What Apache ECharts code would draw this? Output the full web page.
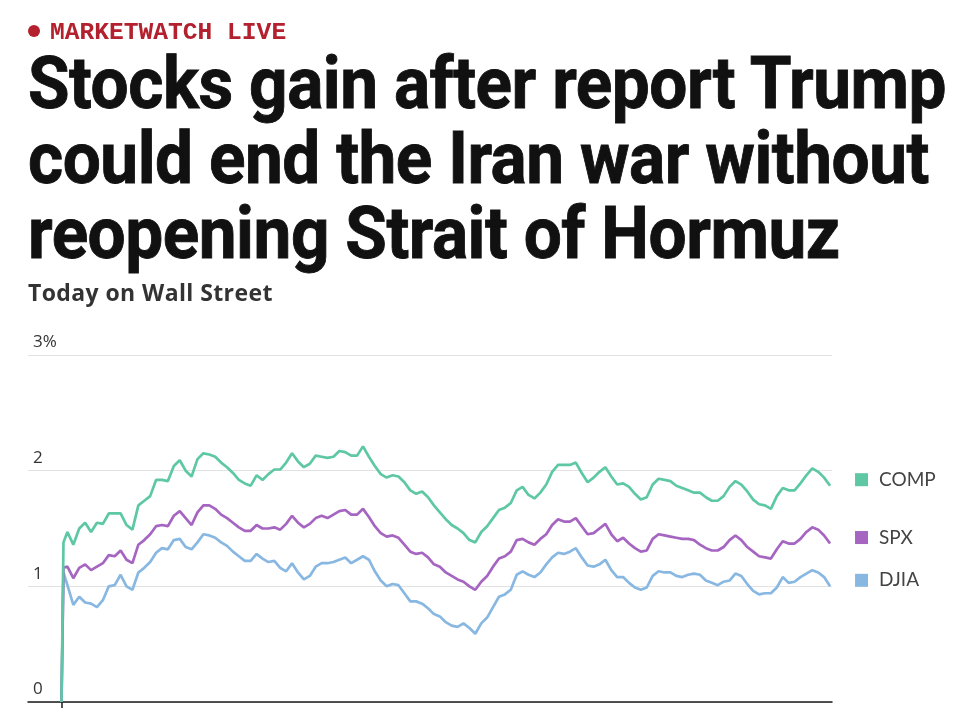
<!DOCTYPE html>
<html>
<head>
<meta charset="utf-8">
<title>Today on Wall Street</title>
<script src="https://cdn.jsdelivr.net/npm/echarts@6/dist/echarts.min.js"></script>
<style>
  body { margin: 0; background: #fff; width: 972px; height: 716px; overflow: hidden; position: relative; font-family: Lato, sans-serif; }
  #chart { position: absolute; left: 0; top: 0; width: 972px; height: 716px; }
  .hd { position: absolute; left: 28px; white-space: nowrap; z-index: 2; }
  #kicker { top: 19px; font: bold 24.6px "Liberation Mono", monospace; color: #b3202e; line-height: 28px; }
  #kicker .dot { display: inline-block; width: 12px; height: 12px; border-radius: 50%; background: #b3202e; margin-right: 10px; vertical-align: 2px; }
  #headline { top: 46px; font-family: Roboto, sans-serif; font-weight: 700; font-size: 73px; line-height: 75px; color: #111; transform-origin: 0 0; letter-spacing: -0.5px; -webkit-text-stroke: 0.9px #111; }
  #headline span { display: block; }
  #sub { top: 278px; font-family: "Open Sans", sans-serif; font-weight: 700; font-size: 23px; line-height: 28px; letter-spacing: 0.4px; color: #333; }
</style>
</head>
<body>
<div id="chart"></div>
<div class="hd" id="kicker"><span class="dot"></span>MARKETWATCH LIVE</div>
<div class="hd" id="headline"><span id="l1">Stocks gain after report Trump</span><span>could end the Iran war without</span><span>reopening Strait of Hormuz</span></div>
<div class="hd" id="sub">Today on Wall Street</div>
<script>
// squeeze the headline so line 1 runs the same width as the original
function fitHeadline() {
    var hl = document.getElementById('headline');
    hl.style.transform = 'none';
    var r = document.createRange();
    r.selectNodeContents(document.getElementById('l1'));
    var w = r.getBoundingClientRect().width;
    hl.style.transform = 'scaleX(' + (918 / w) + ')';
}
fitHeadline();
if (document.fonts) document.fonts.ready.then(fitHeadline);

// minutes since 9:30 open
var minutes = [0, 1];
for (var k = 1; k <= 130; k++) minutes.push(k * 3);

var seriesNames = ['DJIA', 'SPX', 'COMP'];
var seriesColors = ['#88b8e2', '#a565c1', '#5ec8a5'];

var djia = [0, 1.12,
    1.01,0.84,0.91,0.86,0.85,0.82,0.88,1.00,1.01,1.10,
    1.00,0.97,1.12,1.16,1.21,1.29,1.33,1.32,1.40,1.41,
    1.34,1.32,1.38,1.45,1.44,1.42,1.38,1.35,1.30,1.26,
    1.22,1.22,1.28,1.24,1.21,1.22,1.16,1.13,1.20,1.12,
    1.06,1.09,1.17,1.20,1.20,1.21,1.23,1.25,1.20,1.23,
    1.26,1.23,1.13,1.05,1.00,1.02,1.01,0.94,0.87,0.87,
    0.85,0.81,0.76,0.74,0.69,0.66,0.65,0.68,0.64,0.59,
    0.68,0.73,0.82,0.91,0.93,0.97,1.10,1.13,1.10,1.08,
    1.12,1.19,1.25,1.29,1.28,1.30,1.33,1.25,1.18,1.17,
    1.19,1.23,1.14,1.08,1.08,1.03,0.99,0.97,0.99,1.09,
    1.13,1.12,1.12,1.09,1.08,1.10,1.11,1.10,1.05,1.03,
    1.01,1.04,1.05,1.11,1.09,1.02,0.96,0.93,0.94,0.94,
    0.99,1.08,1.03,1.04,1.08,1.11,1.14,1.12,1.08,1.00];

var spx = [0, 1.16,
    1.17,1.07,1.16,1.19,1.14,1.17,1.20,1.27,1.26,1.31,
    1.23,1.20,1.36,1.40,1.45,1.52,1.53,1.52,1.61,1.65,
    1.59,1.53,1.64,1.70,1.70,1.67,1.62,1.59,1.55,1.51,
    1.48,1.48,1.53,1.50,1.50,1.51,1.49,1.54,1.61,1.55,
    1.51,1.54,1.59,1.61,1.59,1.62,1.65,1.66,1.62,1.62,
    1.67,1.60,1.52,1.46,1.43,1.44,1.42,1.36,1.30,1.28,
    1.29,1.25,1.19,1.17,1.12,1.09,1.06,1.04,1.00,0.97,
    1.04,1.09,1.17,1.24,1.26,1.30,1.40,1.41,1.38,1.36,
    1.41,1.45,1.53,1.58,1.56,1.56,1.59,1.52,1.45,1.46,
    1.50,1.54,1.45,1.39,1.42,1.37,1.33,1.30,1.31,1.41,
    1.45,1.44,1.43,1.42,1.41,1.41,1.40,1.36,1.33,1.31,
    1.31,1.34,1.40,1.44,1.40,1.34,1.30,1.26,1.25,1.24,
    1.32,1.39,1.37,1.37,1.41,1.47,1.51,1.49,1.44,1.37];

var comp = [0, 1.38,
    1.47,1.36,1.50,1.55,1.47,1.55,1.54,1.63,1.63,1.63,
    1.53,1.49,1.70,1.74,1.78,1.92,1.92,1.91,2.04,2.09,
    2.00,1.95,2.10,2.15,2.14,2.12,2.07,2.03,1.98,1.92,
    1.89,1.87,1.96,1.92,1.97,2.01,2.01,2.07,2.15,2.08,
    2.03,2.06,2.13,2.12,2.11,2.12,2.17,2.16,2.13,2.13,
    2.21,2.12,2.04,1.97,1.94,1.96,1.95,1.90,1.83,1.80,
    1.82,1.77,1.70,1.64,1.58,1.53,1.50,1.46,1.40,1.38,
    1.47,1.52,1.59,1.66,1.68,1.72,1.83,1.86,1.79,1.76,
    1.81,1.88,1.99,2.05,2.05,2.05,2.07,1.98,1.90,1.94,
    1.99,2.03,1.95,1.88,1.89,1.86,1.80,1.75,1.77,1.88,
    1.93,1.92,1.91,1.87,1.85,1.83,1.81,1.81,1.77,1.74,
    1.74,1.78,1.86,1.91,1.88,1.82,1.75,1.71,1.70,1.67,
    1.78,1.85,1.83,1.83,1.89,1.96,2.02,1.99,1.94,1.87];

var yTicks = [0, 1, 2, 3];

var chart = echarts.init(document.getElementById('chart'), null, { renderer: 'canvas' });

function makeSeries(name, color, vals) {
    return {
        name: name,
        type: 'line',
        showSymbol: false,
        animation: false,
        data: minutes.map(function (m, i) { return [m, vals[i]]; }),
        lineStyle: { color: color, width: 2.7 },
        itemStyle: { color: color },
        emphasis: { disabled: true },
        endLabel: {
            show: true,
            distance: 25,
            offset: [0, -6],
            formatter: function (p) { return '{sq|}{nm|' + p.seriesName + '}'; },
            rich: {
                sq: { width: 13, height: 13, backgroundColor: color },
                nm: { fontFamily: 'Lato', fontSize: 19, color: '#444', padding: [0, 0, 0, 11] }
            }
        }
    };
}

var option = {
    backgroundColor: 'transparent',
    grid: { left: 28, width: 804, top: 355, height: 347 },
    xAxis: {
        type: 'value',
        min: -17,
        max: 391,
        axisLine: { show: true, lineStyle: { color: '#1a1a1a', width: 1.5 } },
        axisTick: { show: true, customValues: [0], length: 6, lineStyle: { color: '#1a1a1a', width: 1.5 } },
        axisLabel: { show: false },
        splitLine: { show: false }
    },
    yAxis: {
        type: 'value',
        min: yTicks[0],
        max: yTicks[yTicks.length - 1],
        interval: 1,
        axisLine: { show: false },
        axisTick: { show: false },
        splitLine: { lineStyle: { color: '#e2e2e2', width: 1.2 } },
        axisLabel: {
            inside: true,
            margin: 5,
            verticalAlign: 'bottom',
            padding: [0, 0, 4, 0],
            fontFamily: 'Open Sans',
            fontSize: 17,
            color: '#333',
            formatter: function (v) { return v === 3 ? '3%' : String(v); }
        }
    },
    series: [
        makeSeries(seriesNames[0], seriesColors[0], djia),
        makeSeries(seriesNames[1], seriesColors[1], spx),
        makeSeries(seriesNames[2], seriesColors[2], comp)
    ]
};

chart.setOption(option);
</script>
</body>
</html>
